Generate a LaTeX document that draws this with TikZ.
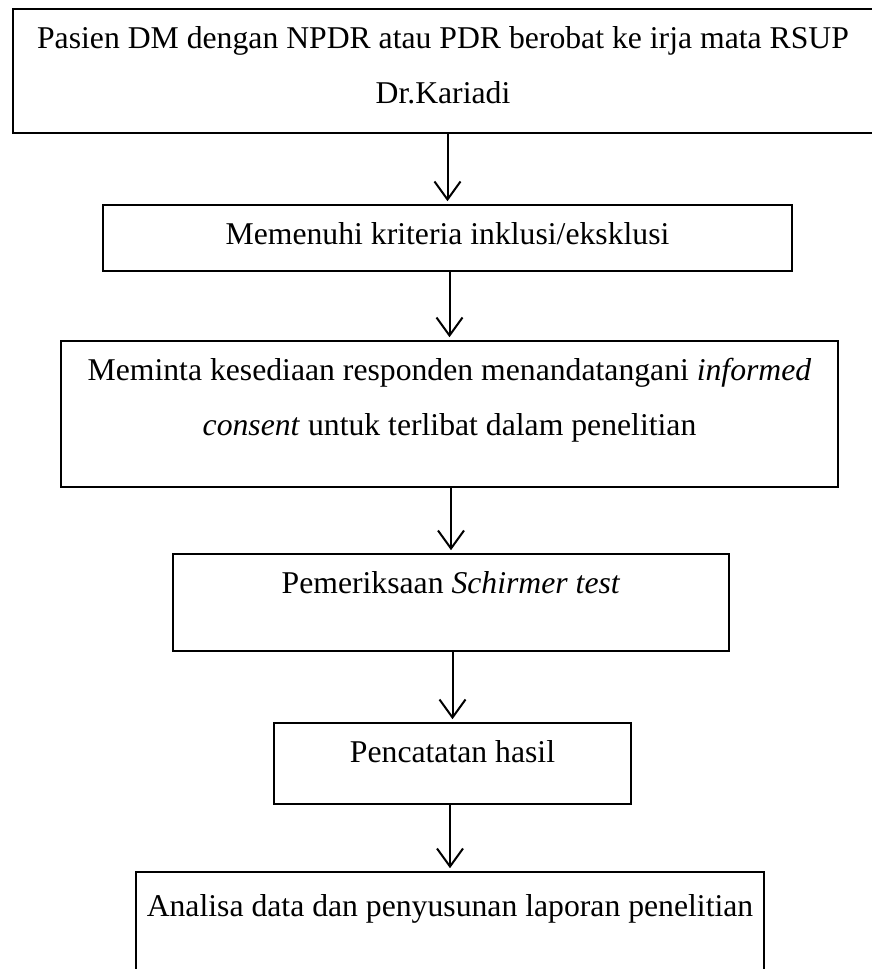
\documentclass[tikz,border=0pt]{standalone}
\usepackage{fontspec}
\setmainfont{Liberation Serif}
\usetikzlibrary{arrows.meta}
\begin{document}
\begin{tikzpicture}[x = 1pt, y = -1pt,
    box/.style = {draw, line width = 1.6pt, inner sep = 0pt},
    txt/.style = {anchor = base, inner sep = 0pt, align = center,
                  font = \fontsize{31.7}{55}\selectfont},
    arr/.style = {-{Straight Barb[length = 18pt, width = 26pt]},
                  line width = 2pt, shorten > = 3pt}]
      \useasboundingbox (0,0) rectangle (871,969);
      % boxes
      \node [box, minimum width = 860, minimum height = 124] (pasien)   at (443,71) {};
      \node [box, minimum width = 689, minimum height = 66]  (kriteria) at (447.5,238) {};
      \node [box, minimum width = 777, minimum height = 146] (consent)  at (449.5,414) {};
      \node [box, minimum width = 556, minimum height = 97]  (schirmer) at (451,602.5) {};
      \node [box, minimum width = 357, minimum height = 81]  (hasil)    at (452.5,763.5) {};
      \node [box, minimum width = 628, minimum height = 138] (analisa)  at (450,941) {};
      % texts (base = last line)
      \node [txt] (pasientxt)   at (443,103)
        {Pasien DM dengan NPDR atau PDR berobat ke irja mata RSUP\\ Dr.Kariadi};
      \node [txt] (kriteriatxt) at (447.5,244) {Memenuhi kriteria inklusi/eksklusi};
      \node [txt] (consenttxt)  at (449.5,435)
        {Meminta kesediaan responden menandatangani \textit{informed}\\
         \textit{consent} untuk terlibat dalam penelitian};
      \node [txt] (schirmertxt) at (451,593) {Pemeriksaan \textit{Schirmer test}};
      \node [txt] (hasiltxt)    at (452.5,762) {Pencatatan hasil};
      \node [txt] (analisatxt)  at (450,916) {Analisa data dan penyusunan laporan penelitian};
      % arrows
      \draw [arr] (pasien.south -| kriteria.north) -- (kriteria.north);
      \draw [arr] (kriteria.south -| consent.north) -- (consent.north);
      \draw [arr] (consent.south -| schirmer.north) -- (schirmer.north);
      \draw [arr] (schirmer.south -| hasil.north) -- (hasil.north);
      \draw [arr] (hasil.south -| analisa.north) -- (analisa.north);
    \end{tikzpicture}
\end{document}
